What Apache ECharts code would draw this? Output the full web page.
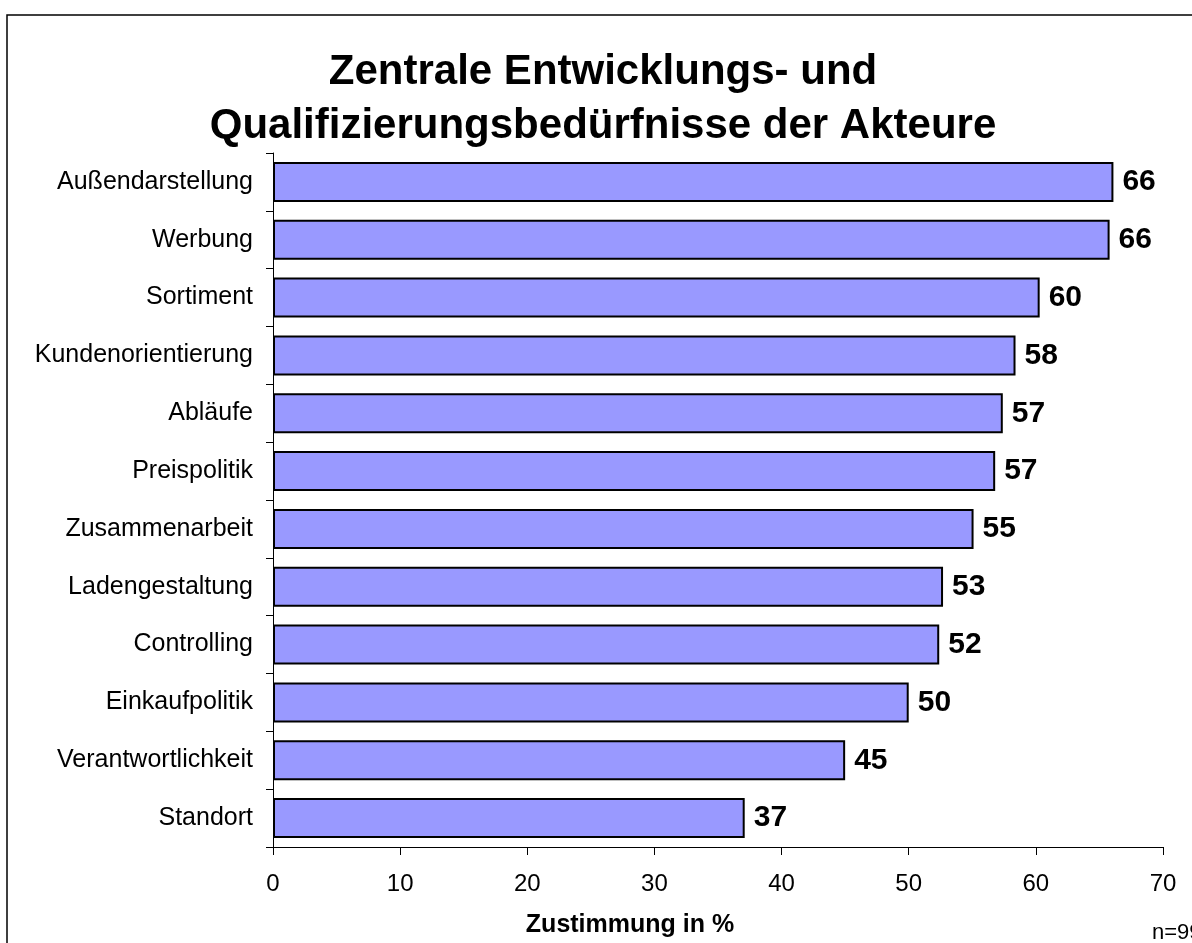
<!DOCTYPE html>
<html>
<head>
<meta charset="utf-8">
<title>Zentrale Entwicklungs- und Qualifizierungsbedürfnisse der Akteure</title>
<script src="https://cdn.jsdelivr.net/npm/echarts@6/dist/echarts.min.js"></script>
<style>
  html, body { margin: 0; padding: 0; background: #fff; }
  #chart { width: 1192px; height: 943px; }
</style>
</head>
<body>
<div id="chart"></div>
<script>
// Kategorien von oben nach unten
const categories = [
  "Außendarstellung", "Werbung", "Sortiment", "Kundenorientierung",
  "Abläufe", "Preispolitik", "Zusammenarbeit", "Ladengestaltung",
  "Controlling", "Einkaufpolitik", "Verantwortlichkeit", "Standort"
];
// Zustimmung in %
const values = [66.1, 65.8, 60.3, 58.4, 57.4, 56.8, 55.1, 52.7, 52.4, 50.0, 45.0, 37.1];
// angezeigte Werte an den Balken
const valueLabels = [66, 66, 60, 58, 57, 57, 55, 53, 52, 50, 45, 37];
// Achsenbeschriftung x
const xTicks = [0, 10, 20, 30, 40, 50, 60, 70];

const font = "Liberation Sans, Arial, sans-serif";
const chart = echarts.init(document.getElementById("chart"));

chart.setOption({
  animation: false,
  textStyle: { fontFamily: font },
  grid: { left: 273, right: 29, top: 153, bottom: 96 },
  xAxis: {
    type: "value",
    min: xTicks[0],
    max: xTicks[xTicks.length - 1],
    interval: 10,
    axisLine: { show: true, lineStyle: { color: "#000", width: 1 } },
    axisTick: { show: true, length: 8, lineStyle: { color: "#000" } },
    splitLine: { show: false },
    axisLabel: { color: "#000", fontSize: 24, margin: 25, fontFamily: font }
  },
  yAxis: {
    type: "category",
    inverse: true,
    data: categories,
    axisLine: { show: true, lineStyle: { color: "#000", width: 1 } },
    axisTick: { show: true, length: 7, alignWithLabel: false, lineStyle: { color: "#000" } },
    axisLabel: { color: "#000", fontSize: 25, margin: 20, fontFamily: font }
  },
  series: [{
    type: "bar",
    data: values,
    barWidth: 40,
    itemStyle: { color: "#9999FF", borderColor: "#000", borderWidth: 2 },
    label: {
      show: true,
      position: "right",
      distance: 9,
      color: "#000",
      fontSize: 30,
      fontWeight: "bold",
      fontFamily: font,
      formatter: (p) => String(valueLabels[p.dataIndex])
    }
  }],
  graphic: [
    {
      // Rahmen um das Diagramm
      type: "rect",
      shape: { x: 7, y: 15, width: 1300, height: 1000 },
      style: { fill: "none", stroke: "#000", lineWidth: 1.5 },
      silent: true
    },
    {
      // Titel, etwas rechts von der Mitte wie im Original
      type: "text",
      x: 603,
      y: 45,
      style: {
        text: "Zentrale Entwicklungs- und\nQualifizierungsbedürfnisse der Akteure",
        fontFamily: font,
        fontSize: 42,
        fontWeight: "bold",
        lineHeight: 54,
        fill: "#000",
        align: "center",
        verticalAlign: "top"
      }
    },
    {
      type: "text",
      x: 630,
      y: 913,
      style: {
        text: "Zustimmung in %",
        fontFamily: font,
        fontSize: 25,
        fontWeight: "bold",
        fill: "#000",
        align: "center"
      }
    },
    {
      type: "text",
      x: 1152,
      y: 922,
      style: {
        text: "n=99",
        fontFamily: font,
        fontSize: 22,
        fill: "#000"
      }
    }
  ]
});
</script>
</body>
</html>
